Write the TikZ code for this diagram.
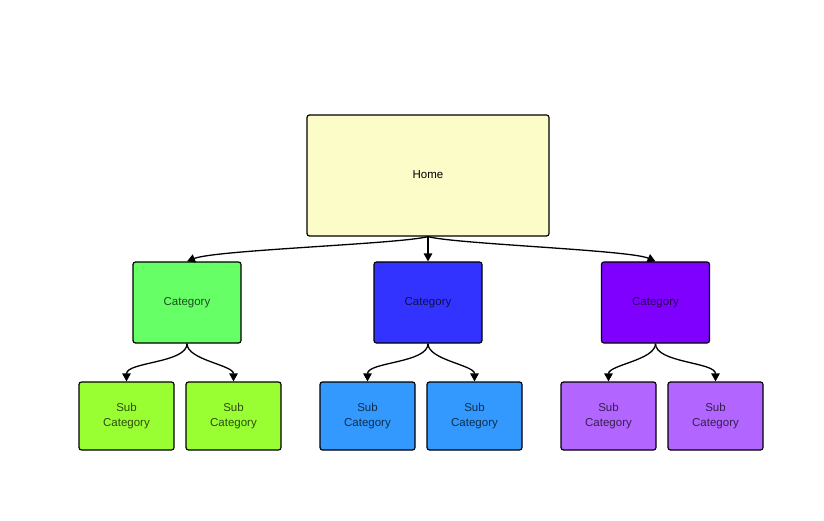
\documentclass[tikz,border=0pt]{standalone}
\usepackage{fontspec}
\setmainfont{Liberation Sans}
\usetikzlibrary{arrows.meta}
\definecolor{homefill}{HTML}{FCFCC8}
\definecolor{catgreen}{HTML}{66FF66}
\definecolor{catblue}{HTML}{3333FF}
\definecolor{catpurple}{HTML}{7F00FF}
\definecolor{subgreen}{HTML}{99FF33}
\definecolor{subblue}{HTML}{3399FF}
\definecolor{subpurple}{HTML}{B266FF}
\tikzset{
  box/.style={draw=black, line width=1.2pt, rounded corners=2.5pt, inner sep=0pt, align=center, font=\fontsize{11.5}{15}\selectfont},
  homebox/.style={box, fill=homefill, minimum width=242pt, minimum height=121pt, text=black},
  catbox/.style={box, fill=#1, minimum width=108pt, minimum height=81pt, text=#1!30!black},
  subbox/.style={box, fill=#1, minimum width=95pt, minimum height=68pt, text=#1!30!black},
  link/.style={draw=black, line width=1.3pt, -{Triangle[length=8pt,width=8.5pt]}},
}
\begin{document}
\begin{tikzpicture}[x=1pt,y=-1pt]
\useasboundingbox (0,0) rectangle (824,521);
\node[homebox] (home) at (428,175.5) {\raisebox{2pt}{Home}};
\node[catbox=catgreen] (c1) at (187,302.5) {Category};
\node[catbox=catblue] (c2) at (428,302.5) {Category};
\node[catbox=catpurple] (c3) at (655.5,302.5) {Category};
\node[subbox=subgreen] (s1) at (126.5,416) {Sub\\Category};
\node[subbox=subgreen] (s2) at (233.5,416) {Sub\\Category};
\node[subbox=subblue] (s3) at (367.5,416) {Sub\\Category};
\node[subbox=subblue] (s4) at (474.5,416) {Sub\\Category};
\node[subbox=subpurple] (s5) at (608.5,416) {Sub\\Category};
\node[subbox=subpurple] (s6) at (715.5,416) {Sub\\Category};
\draw[link] (home.south) .. controls (400,244) and (215,250) .. (c1.north);
\draw[link] (home.south) -- (c2.north);
\draw[link] (home.south) .. controls (455,244) and (630,250) .. (c3.north);
\foreach \c/\a/\b in {c1/s1/s2, c2/s3/s4, c3/s5/s6}{
  \draw[link] (\c.south) to[out=-90,in=90,looseness=0.7] (\a.north);
  \draw[link] (\c.south) to[out=-90,in=90,looseness=0.7] (\b.north);
}
\end{tikzpicture}
\end{document}
